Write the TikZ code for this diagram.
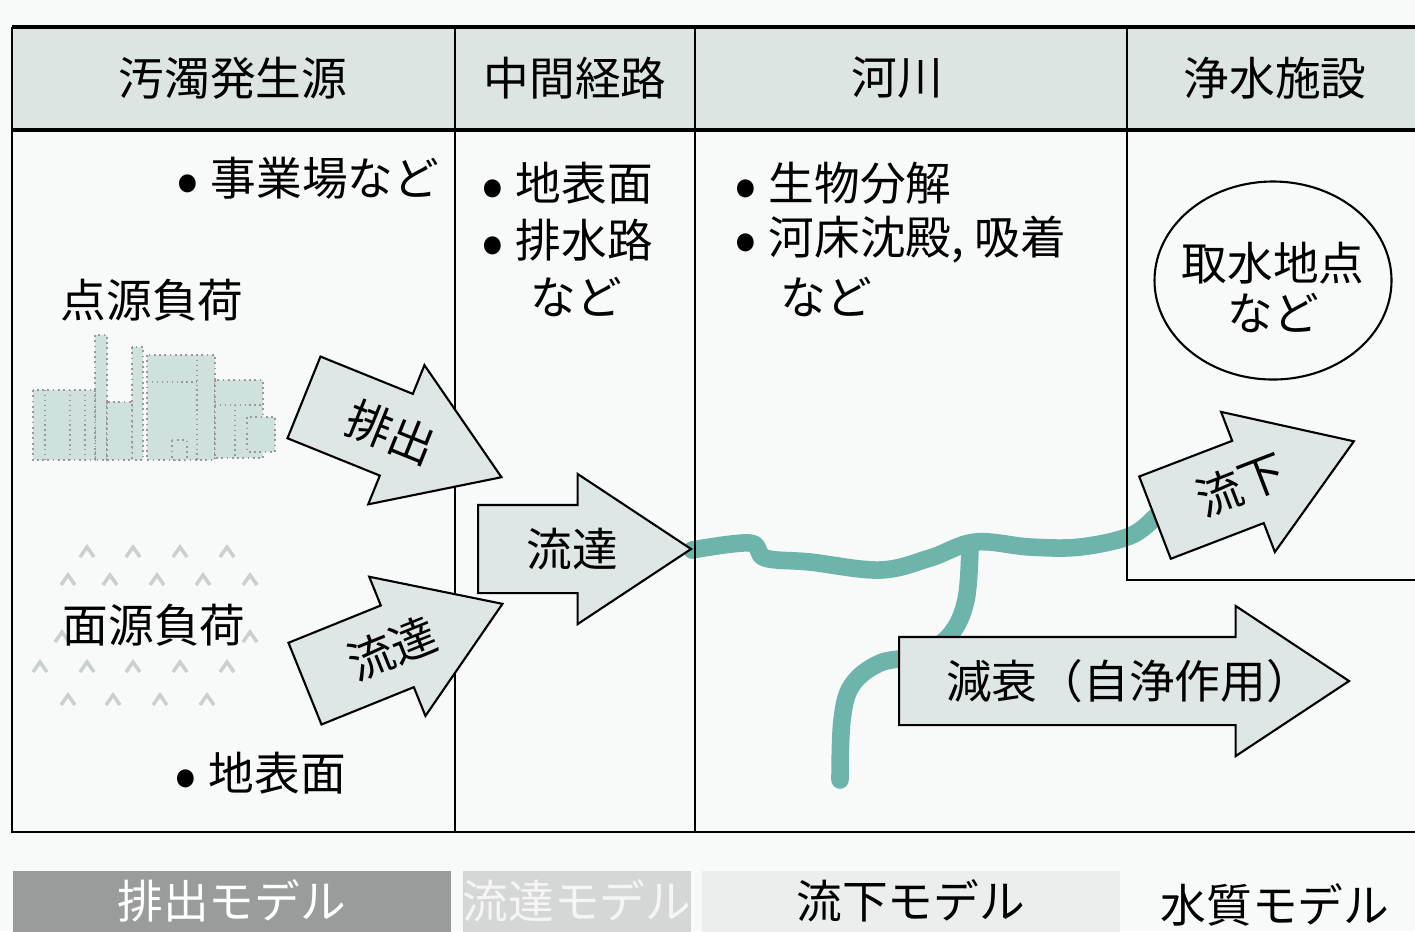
\documentclass[tikz,border=0pt]{standalone}
\usepackage{fontspec}
\setmainfont{Noto Sans CJK JP}
\usetikzlibrary{shapes.arrows,shapes.geometric,calc}

\definecolor{paper}{HTML}{F8FAF9}
\definecolor{headfill}{HTML}{DCE5E2}
\definecolor{arrowfill}{HTML}{DFE7E6}
\definecolor{riverteal}{HTML}{6DB5AB}
\definecolor{plantfill}{HTML}{CFE1DC}
\definecolor{grass}{HTML}{C9D0CD}
\definecolor{modeldark}{HTML}{9A9B9B}
\definecolor{modelmid}{HTML}{D5D7D6}
\definecolor{modellight}{HTML}{ECEEED}

\newcommand{\bul}{\raisebox{-0.8mm}[0pt][0pt]{\fontsize{19}{19}\selectfont •}\hspace{0.25em}}

\tikzstyle{txt}=[inner sep=0pt, font=\fontsize{13}{16}\selectfont]
\tikzstyle{flow}=[single arrow, draw=black, line width=0.6pt, fill=arrowfill, inner xsep=0pt, inner ysep=0.43cm, single arrow head extend=0.31cm, single arrow tip angle=67, minimum height=2.13cm]
\tikzstyle{rule}=[line width=0.7pt]
\tikzstyle{thickrule}=[line width=1.1pt]
\tikzstyle{river}=[riverteal, line width=5pt, line cap=round, line join=round]
\tikzstyle{plant}=[fill=plantfill, draw=gray!80, densely dotted, line width=0.5pt]
\tikzstyle{tuft}=[grass, line width=1pt]
\tikzstyle{model}=[minimum height=0.61cm, inner sep=0pt, anchor=north west, txt]

\begin{document}
\begin{tikzpicture}
\useasboundingbox[fill=paper] (0,0) rectangle (14.15,-9.31);
\fill[headfill] (0.12,-0.27) rectangle (14.15,-1.30);

% river with its side branch
\draw[river] plot[smooth, tension=0.6] coordinates {(6.92,-5.50) (7.50,-5.43) (7.65,-5.58) (8.10,-5.62) (8.80,-5.70) (9.30,-5.58) (9.75,-5.42) (10.30,-5.47) (10.80,-5.47) (11.30,-5.36) (11.54,-5.18)};
\draw[river] plot[smooth, tension=0.6] coordinates {(9.70,-5.45) (9.66,-6.00) (9.50,-6.35) (9.20,-6.55) (8.80,-6.63) (8.52,-6.85) (8.42,-7.20) (8.40,-7.80)};

% table
\draw[thickrule] (0.12,-0.27) -- (14.15,-0.27);
\draw[thickrule] (0.12,-1.30) -- (14.15,-1.30);
\draw[rule] (0.12,-0.27) -- (0.12,-8.32) -- (14.15,-8.32);
\draw[rule] (4.55,-0.27) -- (4.55,-8.32);
\draw[rule] (6.95,-0.27) -- (6.95,-8.32);
\draw[rule] (11.27,-0.27) -- (11.27,-5.80) -- (14.15,-5.80);

\node[txt] at (2.33, -0.78) (hsource) {汚濁発生源};
\node[txt] at (5.75, -0.78) (hpath) {中間経路};
\node[txt] at (8.97, -0.78) (hriver) {河川};
\node[txt] at (12.75, -0.78) (hplant) {浄水施設};

% sources
\node[txt, anchor=east] at (4.40, -1.78) (works) {\bul 事業場など};
\node[txt, anchor=west] at (0.60, -3.00) (point) {点源負荷};
\node[txt, anchor=west] at (1.74, -7.73) (ground) {\bul 地表面};

% factory
\draw[plant] (0.95,-3.35) rectangle (1.07,-4.60);
\draw[plant] (1.32,-3.47) rectangle (1.43,-4.60);
\draw[plant] (0.33,-3.90) rectangle (0.95,-4.60);
\draw[plant] (1.07,-4.02) rectangle (1.32,-4.60);
\draw[plant] (1.47,-3.55) rectangle (2.15,-4.60);
\draw[plant] (2.15,-3.80) rectangle (2.63,-4.58);
\draw[plant] (2.47,-4.17) rectangle (2.75,-4.52);
\draw[plant] (1.72,-4.40) rectangle (1.87,-4.60);
\draw[gray!80, densely dotted] (0.45,-3.90) -- (0.45,-4.60) (0.70,-3.90) -- (0.70,-4.60) (0.85,-3.90) -- (0.85,-4.60);
\draw[gray!80, densely dotted] (1.47,-3.82) -- (1.97,-3.82) (1.97,-3.55) -- (1.97,-4.60) (2.15,-4.05) -- (2.63,-4.05) (2.35,-4.05) -- (2.35,-4.58);

% grass for non-point load
\foreach \x in {0.87,1.33,1.80,2.27} \draw[tuft] (\x,-5.52) ++(-0.07,-0.05) -- ++(0.07,0.1) -- ++(0.07,-0.1);
\foreach \x in {0.68,1.10,1.57,2.03,2.50} \draw[tuft] (\x,-5.80) ++(-0.07,-0.05) -- ++(0.07,0.1) -- ++(0.07,-0.1);
\foreach \x in {0.62,2.50} \draw[tuft] (\x,-6.37) ++(-0.07,-0.05) -- ++(0.07,0.1) -- ++(0.07,-0.1);
\foreach \x in {0.40,0.87,1.33,1.80,2.27} \draw[tuft] (\x,-6.67) ++(-0.07,-0.05) -- ++(0.07,0.1) -- ++(0.07,-0.1);
\foreach \x in {0.68,1.13,1.60,2.07} \draw[tuft] (\x,-7.00) ++(-0.07,-0.05) -- ++(0.07,0.1) -- ++(0.07,-0.1);
\node[txt, anchor=west] at (0.62, -6.25) (area) {面源負荷};

% intermediate path
\node[txt, anchor=west] at (4.81, -1.83) (surface) {\bul 地表面};
\node[txt, anchor=west] at (4.81, -2.40) (drain) {\bul 排水路};
\node[txt, anchor=west] at (5.30, -2.97) (etc1) {など};

% river processes
\node[txt, anchor=west] at (7.34, -1.83) (bio) {\bul 生物分解};
\node[txt, anchor=west] at (7.34, -2.40) (settle) {\bul 河床沈殿, 吸着};
\node[txt, anchor=west] at (7.80, -2.97) (etc2) {など};

% intake point
\node[draw, ellipse, line width=0.6pt, minimum width=2.37cm, minimum height=1.98cm, inner sep=0pt] at (12.73, -2.805) (intake) {};
\node[txt, align=center, font=\fontsize{13}{14.2}\selectfont] at (12.73, -2.87) (intaketxt) {取水地点\\など};

% flows
\node[flow, rotate=-22, anchor=tail] at (3.03, -3.97) (emit) {};
\node[flow, rotate=22, anchor=tail] at (3.04, -6.84) (runoff) {};
\node[flow, anchor=tail] at (4.77, -5.49) (reach) {};
\node[flow, rotate=21, anchor=tail] at (11.54, -5.18) (down) {};
\node[flow, anchor=tail, minimum height=4.50cm] at (8.98, -6.81) (decay) {};
\node[txt, rotate=-22] at ($(emit.tail)!0.44!(emit.tip)$) (emittxt) {排出};
\node[txt, rotate=22] at ($(runoff.tail)!0.44!(runoff.tip)$) (runofftxt) {流達};
\node[txt] at ($(reach.tail)!0.44!(reach.tip)$) (reachtxt) {流達};
\node[txt, rotate=21] at ($(down.tail)!0.43!(down.tip)$) (downtxt) {流下};
\node[txt] at ($(decay.tail)!0.51!(decay.tip)$) (decaytxt) {減衰（自浄作用）};

% model bar
\node[model, fill=modeldark, minimum width=4.38cm, text=white] at (0.12, -8.70) (memit) {排出モデル};
\node[model, fill=modelmid, minimum width=2.28cm, text=white!92!gray] at (4.62, -8.70) (mreach) {流達モデル};
\node[model, fill=modellight, minimum width=4.18cm] at (7.01, -8.70) (mdown) {流下モデル};
\node[txt] at (12.75, -9.05) (mqual) {水質モデル};
\end{tikzpicture}
\end{document}
